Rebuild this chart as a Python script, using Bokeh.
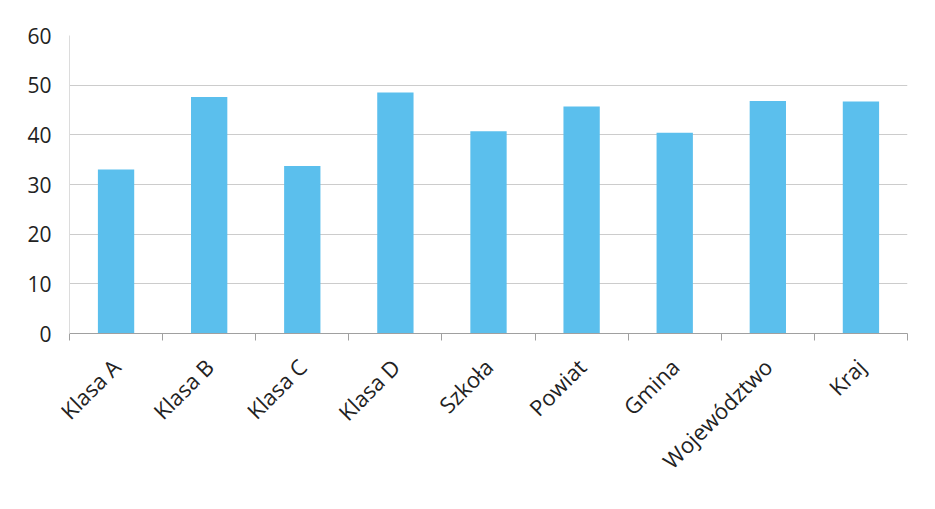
import math
from bokeh.plotting import figure
from bokeh.models import FixedTicker, Range1d
from bokeh.embed import file_html
from bokeh.resources import INLINE

categories = ["Klasa A", "Klasa B", "Klasa C", "Klasa D", "Szkoła", "Powiat",
              "Gmina", "Województwo", "Kraj"]
values = [33.0, 47.6, 33.7, 48.5, 40.7, 45.7, 40.4, 46.8, 46.7]
y_ticks = [0, 10, 20, 30, 40, 50, 60]

n = len(categories)
xs = list(range(n))

p = figure(width=919, height=493, output_backend="svg", toolbar_location=None,
           x_range=Range1d(-0.5, n - 0.5), y_range=Range1d(0, 60),
           min_border_left=69, min_border_right=12, min_border_top=35,
           min_border_bottom=160)

p.vbar(x=xs, top=values, width=0.39, color="#5bbfed", line_color=None)

FONT = "Open Sans"
TXT = "#222222"

xa = p.xaxis[0]
xa.ticker = FixedTicker(ticks=xs, minor_ticks=[i - 0.5 for i in range(n + 1)])
xa.major_label_overrides = {i: c for i, c in enumerate(categories)}
xa.major_label_orientation = math.pi / 4
xa.major_label_text_font = FONT
xa.major_label_text_font_size = "22px"
xa.major_label_text_color = TXT
xa.major_tick_line_color = None
xa.minor_tick_line_color = "#a0a0a0"
xa.minor_tick_out = 7
xa.minor_tick_in = 0
xa.axis_line_color = "#a0a0a0"
xa.major_label_standoff = 22

ya = p.yaxis[0]
ya.ticker = FixedTicker(ticks=y_ticks)
ya.major_label_text_font = FONT
ya.major_label_text_font_size = "21px"
ya.major_label_text_color = TXT
ya.major_tick_line_color = None
ya.minor_tick_line_color = None
ya.axis_line_color = "#dcdcdc"
ya.major_label_standoff = 12

p.xgrid.grid_line_color = None
p.ygrid.grid_line_color = "#cccccc"
p.ygrid.grid_line_width = 1.2
p.outline_line_color = None
p.background_fill_color = "white"
p.border_fill_color = "white"

open("out.html", "w").write(file_html(p, INLINE))
